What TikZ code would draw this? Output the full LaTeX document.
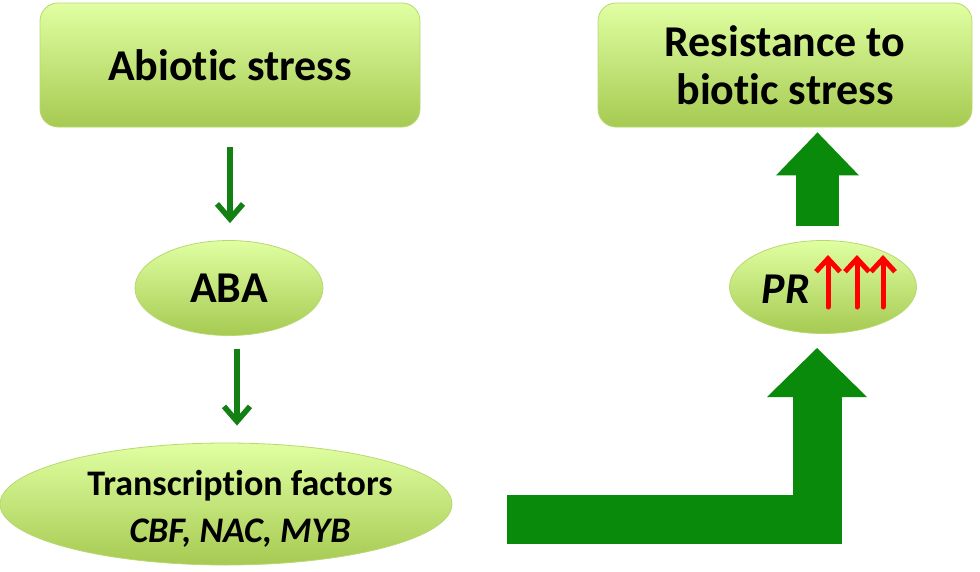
\documentclass[tikz,border=0pt]{standalone}
\usepackage{fontspec}
\setmainfont{Carlito}[Ligatures=NoCommon]
\usetikzlibrary{arrows.meta,shapes.geometric}
\definecolor{boxtop}{HTML}{E0FFA2}
\definecolor{boxbot}{HTML}{A6CA52}
\definecolor{boxline}{HTML}{B8D870}
\definecolor{leafgreen}{HTML}{0A8A0A}
\definecolor{thingreen}{HTML}{128012}
\begin{document}
\begin{tikzpicture}[x=1pt,y=-1pt,
  stressbox/.style={rectangle, rounded corners=18pt, minimum width=380pt, minimum height=124pt,
    top color=boxtop, bottom color=boxbot, draw=boxline, line width=0.8pt,
    font=\bfseries\fontsize{44}{48}\selectfont, align=center},
  oval/.style={ellipse, inner sep=0pt, top color=boxtop, bottom color=boxbot, draw=boxline,
    line width=0.8pt, font=\bfseries\fontsize{44}{48}\selectfont, align=center},
  tftext/.style={anchor=base, inner sep=0pt, font=\bfseries\fontsize{36}{47}\selectfont},
  thinarrow/.style={thingreen, line width=5.5pt, -{Straight Barb[length=15pt,width=26pt]}},
  blockarrow/.style={leafgreen, line join=miter},
  redarrow/.style={red, line width=5pt, line cap=round, -{Straight Barb[length=13pt,width=24pt]}}]
\useasboundingbox (0,0) rectangle (980,571);
% boxes and ovals
\node[stressbox] (abiotic) at (230,65) {Abiotic stress};
\node[stressbox, minimum width=374pt] (resist) at (785,65) {Resistance to\\biotic stress};
\node[oval, minimum width=188pt, minimum height=95pt] (aba) at (229,288) {ABA};
\node[oval, minimum width=452pt, minimum height=122pt] (tf) at (226,504) {};
\node[tftext] (tflabel) at (240,495) {Transcription factors};
\node[tftext] (tfgenes) at (240,542) {\itshape CBF, NAC, MYB};
\node[oval, minimum width=187pt, minimum height=93pt] (pr) at (823,287) {};
\node[font=\bfseries\itshape\fontsize{44}{48}\selectfont] (prlabel) at (786,289) {PR};
% thin arrows
\draw[thinarrow, shorten <=20pt, shorten >=17pt] (abiotic.south) -- (abiotic.south |- aba.north);
\coordinate (abafoot) at ([xshift=8pt]aba.south);
\draw[thinarrow, shorten <=13pt, shorten >=17pt] (abafoot) -- (abafoot |- tf.north);
% red arrows
\foreach \dx in {5,34,60}
  \draw[redarrow] ([xshift=\dx pt,yshift=-20pt]pr.center) -- ++(0,-52);
% block arrows
\coordinate (bendstart) at (507,519.5);
\coordinate (bendtip) at (817,348);
\draw[blockarrow, line width=49pt, -{Triangle[width=100pt,length=49pt,line width=0pt]}]
  (bendstart) -| (bendtip);
\coordinate (prtop) at ([xshift=-5.5pt,yshift=14.5pt]pr.north);
\draw[blockarrow, line width=43pt, -{Triangle[width=83pt,length=43pt,line width=0pt]}, shorten >=5pt]
  (prtop) -- (prtop |- resist.south);
\end{tikzpicture}
\end{document}
